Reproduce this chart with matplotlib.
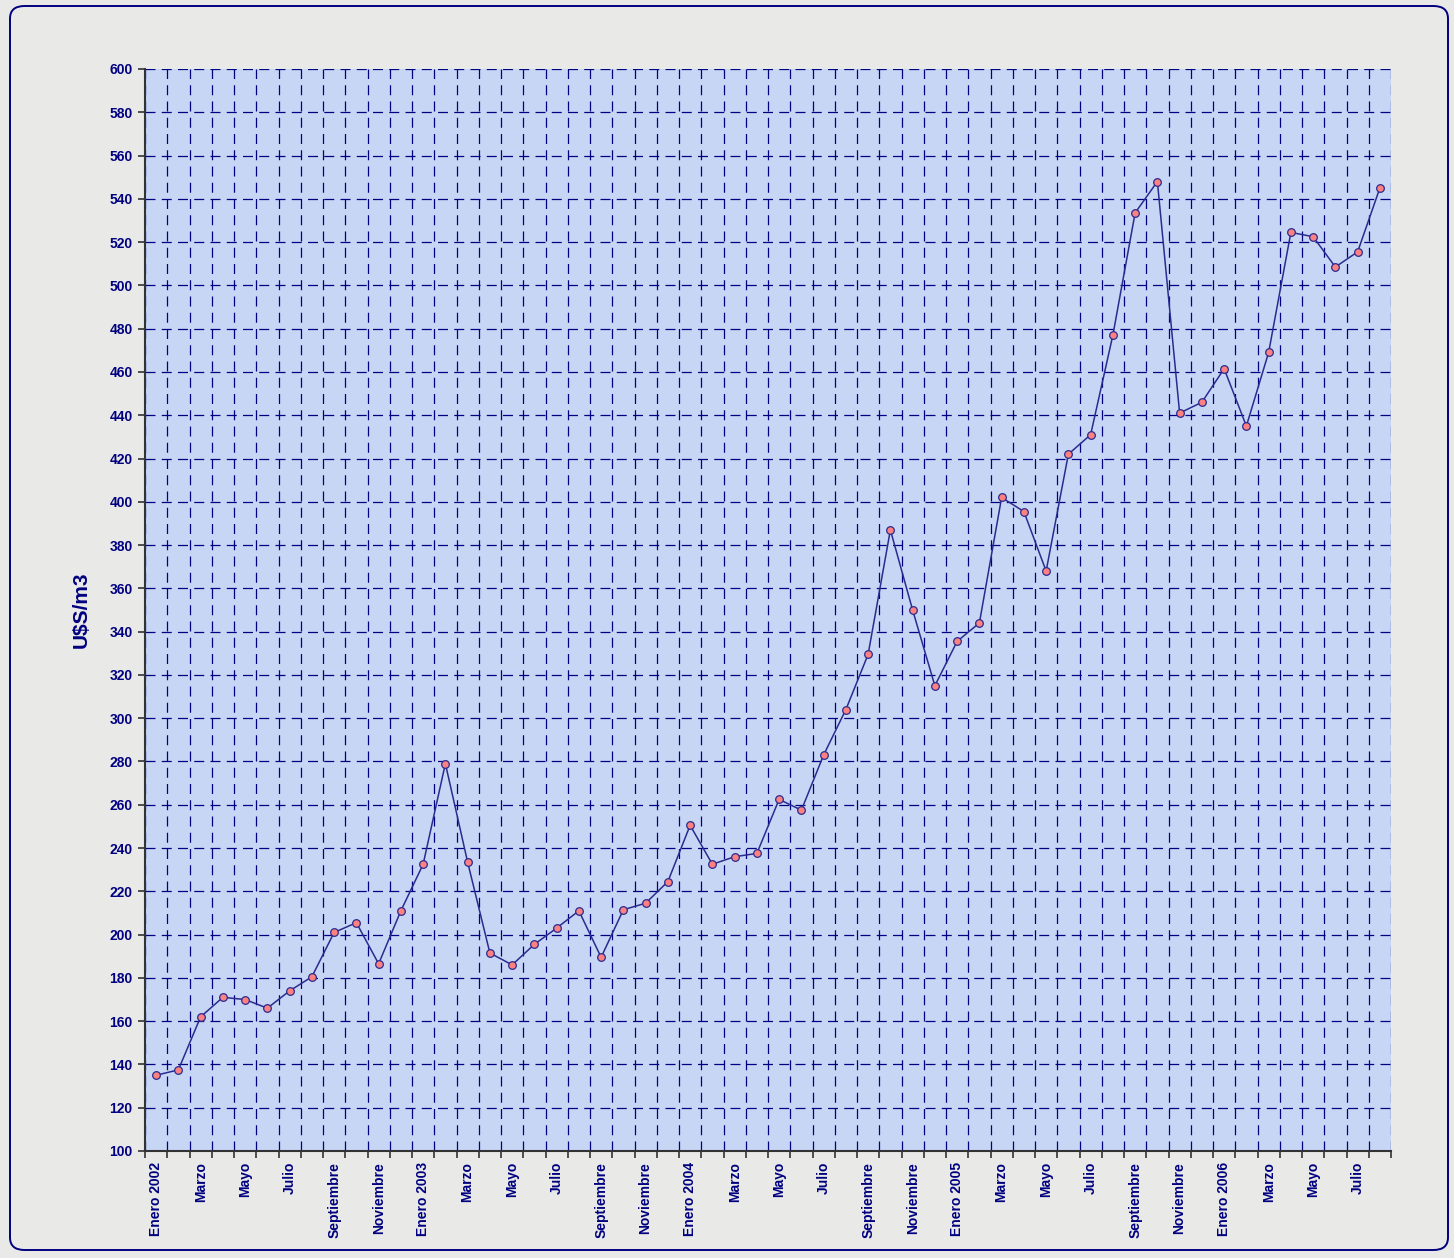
import numpy as np
import matplotlib.pyplot as plt
from matplotlib.patches import FancyBboxPatch
from matplotlib.ticker import MultipleLocator, FixedLocator

months = ['Enero', 'Febrero', 'Marzo', 'Abril', 'Mayo', 'Junio', 'Julio', 'Agosto',
          'Septiembre', 'Octubre', 'Noviembre', 'Diciembre']
years = [2002, 2003, 2004, 2005, 2006]
n_last_year = 8

labels = []
for yr in years:
    for i, m in enumerate(months):
        if yr == 2006 and i >= n_last_year:
            break
        labels.append(f'{m} {yr}' if i == 0 else m)

prices = [135, 137.5, 162, 171, 170, 166, 174, 180.5,
          201, 205.5, 186.5, 211,
          232.5, 279, 233.5, 191.5, 186, 195.5, 203, 211,
          189.5, 211.5, 214.5, 224.5,
          250.5, 232.5, 236, 237.5, 262.5, 257.5, 283, 304,
          329.5, 387, 350, 315,
          335.5, 344, 402, 395.5, 368, 422, 431, 477,
          533.5, 548, 441, 446,
          461.5, 435, 469, 524.5, 522.5, 508.5, 515.5, 545]

navy = '#000080'
line_col = '#2b2b8f'

fig = plt.figure(figsize=(14.54, 12.58), dpi=100)
fig.patch.set_facecolor('#e9e9e7')
frame = FancyBboxPatch((10 / 1454, 8 / 1258), 1438 / 1454, 1244 / 1258,
                       boxstyle='round,pad=0,rounding_size=0.01',
                       transform=fig.transFigure, facecolor='none',
                       edgecolor=navy, linewidth=1.4, zorder=0)
fig.patches.append(frame)

ax = fig.add_axes([145 / 1454, 1 - 1151 / 1258, 1246 / 1454, 1082 / 1258])
ax.set_facecolor('#c8d6f6')

x = np.arange(len(prices))
ax.plot(x, prices, color=line_col, linewidth=1.1, marker='o', markersize=5.5,
        markerfacecolor='#ff8080', markeredgecolor=line_col, markeredgewidth=0.9, zorder=3)

ax.set_xlim(-0.5, len(prices) - 0.5)
ax.set_ylim(100, 600)
ax.yaxis.set_major_locator(MultipleLocator(20))

# category labels every two months, tick marks on category boundaries
ax.set_xticks(x[::2])
ax.set_xticklabels(labels[::2], rotation=90)
ax.xaxis.set_minor_locator(FixedLocator(np.arange(-0.5, len(prices), 1)))
ax.tick_params(axis='x', which='major', length=0, pad=8)
ax.tick_params(axis='x', which='minor', length=5, color='#333333', width=1.2)
ax.tick_params(axis='y', length=5, color='#333333', width=1.2, pad=4)

for lbl in ax.get_xticklabels() + ax.get_yticklabels():
    lbl.set_fontfamily('Liberation Sans')
    lbl.set_fontweight('bold')
    lbl.set_color(navy)
    lbl.set_fontsize(10)

ax.grid(True, axis='y', which='major', color=navy, linestyle=(0, (8, 5)), linewidth=0.9)
ax.grid(True, axis='x', which='minor', color=navy, linestyle=(0, (8, 5)), linewidth=0.9)
ax.set_axisbelow(True)

for side in ['top', 'right']:
    ax.spines[side].set_visible(False)
for side in ['left', 'bottom']:
    ax.spines[side].set_color('#333333')
    ax.spines[side].set_linewidth(1.5)

ax.set_ylabel('U$S/m3', fontfamily='Liberation Sans', fontweight='bold',
              fontsize=15, color=navy, labelpad=13)

fig.savefig('out.png', dpi=100, facecolor=fig.get_facecolor())
